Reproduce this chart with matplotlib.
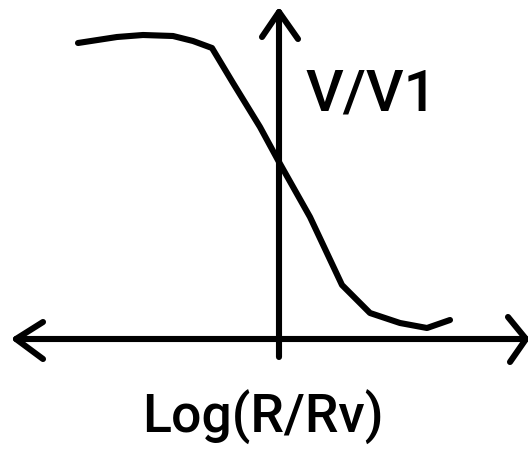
import matplotlib
matplotlib.use("Agg")
import matplotlib.pyplot as plt
import numpy as np

# Sketched curve: V/V1 versus Log(R/Rv)
log_r = [-2.01, -1.62, -1.36, -1.06, -0.86, -0.67, -0.46, -0.19, 0.00, 0.31, 0.63, 0.91, 1.21, 1.48, 1.71]
v_ratio = [2.96, 3.02, 3.04, 3.03, 2.98, 2.91, 2.56, 2.12, 1.77, 1.22, 0.54, 0.26, 0.16, 0.11, 0.19]

x_label = "Log(R/Rv)"
y_label = "V/V1"

W, H, DPI = 528, 450, 100
fig = plt.figure(figsize=(W / DPI, H / DPI), dpi=DPI)
ax = fig.add_axes([0, 0, 1, 1])
ax.set_xlim(-2.79, 2.49)
ax.set_ylim(-1.11, 3.39)
ax.axis("off")

lw = 4.4
kw = dict(color="black", lw=lw, solid_capstyle="round", solid_joinstyle="round")

# axes with hand-drawn arrowheads
x_left, x_right = -2.63, 2.47
y_bottom, y_top = -0.18, 3.27
ax.plot([x_left, x_right], [0, 0], **kw)
ax.plot([0, 0], [y_bottom, y_top], **kw)
ax.plot([x_left + 0.27, x_left, x_left + 0.27], [0.17, 0, -0.20], **kw)
ax.plot([x_right - 0.18, x_right, x_right - 0.16], [0.22, 0, -0.23], **kw)
ax.plot([-0.17, 0, 0.19], [y_top - 0.25, y_top, y_top - 0.27], **kw)

# curve
ax.plot(log_r, v_ratio, **kw)

font = ["Roboto", "DejaVu Sans"]
ax.text(0.26, 2.29, y_label, ha="left", va="baseline", fontsize=42,
        family=font, fontweight="medium")
ax.text(-1.37, -0.94, x_label, ha="left", va="baseline", fontsize=38.5,
        family=font, fontweight="medium")

fig.savefig("out.png", dpi=DPI, facecolor="white")
